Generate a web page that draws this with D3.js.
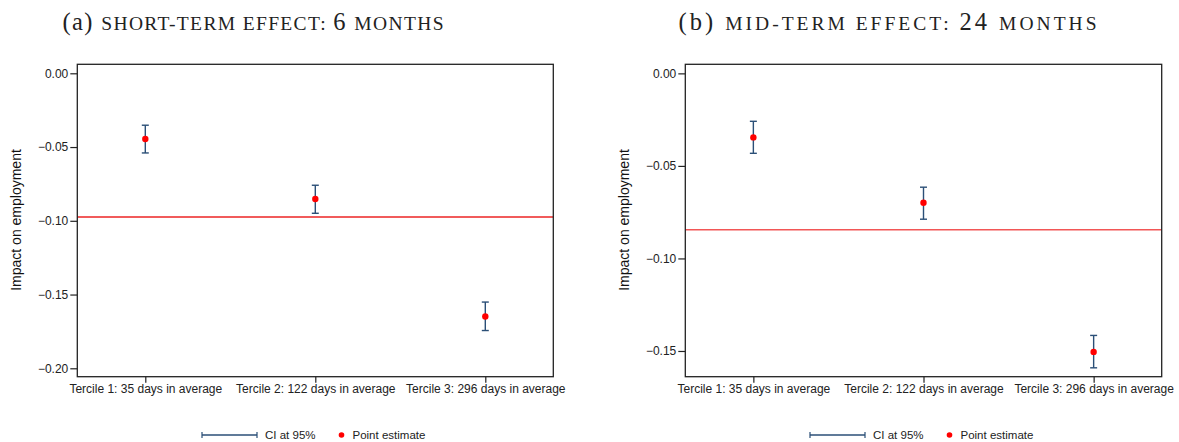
<!DOCTYPE html>
<html>
<head>
<meta charset="utf-8">
<script src="https://cdn.jsdelivr.net/npm/d3@7"></script>
<style>
  body { margin: 0; background: #fff; }
  svg { display: block; }
</style>
</head>
<body>
<svg width="1179" height="442"></svg>
<script>
// tercile categories
const categories = [
  "Tercile 1: 35 days in average",
  "Tercile 2: 122 days in average",
  "Tercile 3: 296 days in average"
];

// (a) short-term effect, 6 months
const shortEst = [-0.0445, -0.0852, -0.1649];
const shortLo = [-0.0540, -0.0949, -0.1744];
const shortHi = [-0.0352, -0.0759, -0.1551];
const shortAvg = -0.0974;
const shortTicks = [0, -0.05, -0.10, -0.15, -0.20];

// (b) mid-term effect, 24 months
const midEst = [-0.0346, -0.0699, -0.1505];
const midLo = [-0.0432, -0.0788, -0.1591];
const midHi = [-0.0259, -0.0615, -0.1416];
const midAvg = -0.0845;
const midTicks = [0, -0.05, -0.10, -0.15];

const svg = d3.select("svg");
const plotTop = 64.3, plotBottom = 376.7;
const ciColor = "#2b4f77";

function panel(opts) {
  const g = svg.append("g");
  let x = d3.scalePoint().domain(categories).range([opts.x0, opts.x1]).padding(0.4);
  let y = d3.scaleLinear().domain(opts.domain).range([plotBottom, plotTop]);

  // title: "(x)" upright, words in small caps, numbers full size
  let t = g.append("text")
    .attr("x", opts.titleX)
    .attr("y", 30)
    .attr("font-family", "'Liberation Serif', 'DejaVu Serif', serif")
    .attr("fill", "#222")
    .attr("textLength", opts.titleW);
  opts.title.forEach(p => {
    t.append("tspan").attr("font-size", p[1] ? 19.5 : 24.5).text(p[0]);
  });

  // y axis
  let yAxis = g.append("g")
    .attr("transform", `translate(${opts.x0},0)`)
    .call(d3.axisLeft(y).tickValues(opts.ticks).tickFormat(d3.format(".2f")).tickSize(7).tickPadding(2));
  yAxis.select(".domain").remove();
  yAxis.selectAll("line").attr("stroke", "#222").attr("stroke-width", 1.2);
  yAxis.selectAll("text").attr("font-family", "'Liberation Sans', Arial, sans-serif").attr("font-size", 12).attr("fill", "#222");

  // x axis
  let xAxis = g.append("g")
    .attr("transform", `translate(0,${plotBottom})`)
    .call(d3.axisBottom(x).tickSize(6).tickPadding(2));
  xAxis.select(".domain").remove();
  xAxis.selectAll("line").attr("stroke", "#222").attr("stroke-width", 1.2);
  xAxis.selectAll("text").attr("font-family", "'Liberation Sans', Arial, sans-serif").attr("font-size", 12).attr("fill", "#222");

  // y title
  g.append("text")
    .attr("transform", `translate(${opts.yTitleX},220) rotate(-90)`)
    .attr("text-anchor", "middle")
    .attr("font-family", "'Liberation Sans', Arial, sans-serif")
    .attr("font-size", 14)
    .attr("fill", "#111")
    .text("Impact on employment");

  // average line
  g.append("line")
    .attr("x1", opts.x0).attr("x2", opts.x1)
    .attr("y1", y(opts.avg)).attr("y2", y(opts.avg))
    .attr("stroke", opts.avgColor).attr("stroke-width", 1.4);

  let pts = categories.map((c, i) => ({ c: c, est: opts.est[i], lo: opts.lo[i], hi: opts.hi[i] }));

  // CI bars
  let ci = g.selectAll("g.ci").data(pts).enter().append("g").attr("class", "ci")
    .attr("stroke", ciColor).attr("stroke-width", 1.4);
  ci.append("line")
    .attr("x1", d => x(d.c)).attr("x2", d => x(d.c))
    .attr("y1", d => y(d.hi)).attr("y2", d => y(d.lo));
  ci.append("line")
    .attr("x1", d => x(d.c) - 3.5).attr("x2", d => x(d.c) + 3.5)
    .attr("y1", d => y(d.hi)).attr("y2", d => y(d.hi));
  ci.append("line")
    .attr("x1", d => x(d.c) - 3.5).attr("x2", d => x(d.c) + 3.5)
    .attr("y1", d => y(d.lo)).attr("y2", d => y(d.lo));

  // point estimates
  g.selectAll("circle.est").data(pts).enter().append("circle")
    .attr("class", "est")
    .attr("cx", d => x(d.c)).attr("cy", d => y(d.est))
    .attr("r", 3.2).attr("fill", "#ff0000");

  // frame
  g.append("rect")
    .attr("x", opts.x0).attr("y", plotTop)
    .attr("width", opts.x1 - opts.x0).attr("height", plotBottom - plotTop)
    .attr("fill", "none").attr("stroke", "#222").attr("stroke-width", 1.3);

  // legend
  let lx = opts.legX, ly = 435;
  let leg = g.append("g");
  leg.append("line").attr("x1", lx).attr("x2", lx + 55).attr("y1", ly).attr("y2", ly)
    .attr("stroke", ciColor).attr("stroke-width", 1.3);
  [lx, lx + 55].forEach(v => {
    leg.append("line").attr("x1", v).attr("x2", v).attr("y1", ly - 3).attr("y2", ly + 3)
      .attr("stroke", ciColor).attr("stroke-width", 1.2);
  });
  leg.append("text").attr("x", lx + 63).attr("y", ly + 4)
    .attr("font-family", "'Liberation Sans', Arial, sans-serif").attr("font-size", 11.5)
    .attr("fill", "#222").text("CI at 95%");
  leg.append("circle").attr("cx", lx + 139.5).attr("cy", ly).attr("r", 2.8).attr("fill", "#ff0000");
  leg.append("text").attr("x", lx + 150.5).attr("y", ly + 4)
    .attr("font-family", "'Liberation Sans', Arial, sans-serif").attr("font-size", 11.5)
    .attr("fill", "#222").text("Point estimate");
}

panel({
  x0: 77.3, x1: 553.3, domain: [-0.2057, 0.0061], ticks: shortTicks,
  est: shortEst, lo: shortLo, hi: shortHi, avg: shortAvg, avgColor: "#ec2424",
  title: [["(a) ", false], ["SHORT-TERM EFFECT: ", true], ["6 ", false], ["MONTHS", true]],
  titleX: 62.5, titleW: 381, yTitleX: 21, legX: 202
});

panel({
  x0: 685.3, x1: 1161.7, domain: [-0.1639, 0.0049], ticks: midTicks,
  est: midEst, lo: midLo, hi: midHi, avg: midAvg, avgColor: "#f25656",
  title: [["(b) ", false], ["MID-TERM EFFECT: ", true], ["24 ", false], ["MONTHS", true]],
  titleX: 678.5, titleW: 418, yTitleX: 629, legX: 810
});
</script>
</body>
</html>
